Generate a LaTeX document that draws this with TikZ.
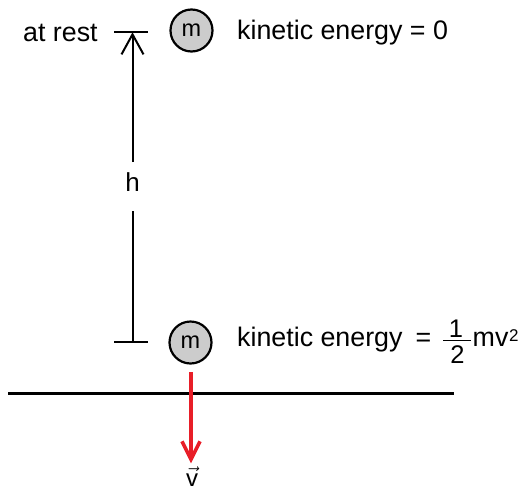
\documentclass[tikz,border=0pt]{standalone}
\usepackage{fontspec}
\setmainfont{Liberation Sans}
\usepackage{amsmath}
\usetikzlibrary{arrows.meta}
\definecolor{arrred}{RGB}{232,30,40}
\definecolor{massgray}{RGB}{204,204,204}
\begin{document}
\begin{tikzpicture}[x=1pt,y=-1pt,
  lbl/.style={font=\fontsize{26.8}{32}\selectfont, inner sep=0pt, anchor=base west},
  frac/.style={font=\fontsize{25.5}{30}\selectfont, inner sep=0pt, anchor=base},
  mass/.style={circle, draw, line width=2.2pt, fill=massgray, minimum size=42pt, inner sep=0pt, font=\fontsize{23.5}{28}\selectfont},
  tickline/.style={line width=2pt},
]
\useasboundingbox (0,0) rectangle (526,490);
% labels top
\node[lbl] (rest) at (23,41.5) {at rest};
\node[mass] (m1) at (191.5,30.5) {m};
\node[lbl] (ke1) at (237,39.3) {kinetic energy = 0};
% labels bottom
\node[mass] (m2) at (190.5,342.5) {m};
\node[lbl] (ke2) at (237,346.7) {kinetic energy};
\node[lbl] (eq) at (415.5,346.7) {=};
\node[frac] (num) at (456,337) {1};
\node[frac] (den) at (457.5,363.5) {2};
\node[lbl] (mv) at (472.5,346.7) {mv};
\node[lbl, font=\fontsize{17}{20}\selectfont] (sq) at (509,341.5) {2};
\coordinate (bl) at (443,340.5);
\coordinate (br) at (471,340.5);
\draw[line width=1.6pt] (bl) -- (br);
% height marker
\coordinate (tt1) at (114,32.3);
\coordinate (tt2) at (148,32.3);
\coordinate (tb1) at (114,341.7);
\coordinate (tb2) at (148,341.7);
\coordinate (ttop) at (132.5,32.3);
\coordinate (tbot) at (132.5,341.7);
\coordinate (gtop) at (132.5,162);
\coordinate (gbot) at (132.5,211);
\draw[tickline] (tt1) -- (tt2);
\draw[tickline] (tb1) -- (tb2);
\draw[tickline, -{Straight Barb[length=20pt,width=22pt]}] (gtop) -- (ttop);
\draw[tickline] (gbot) -- (tbot);
\node[font=\fontsize{26}{30}\selectfont, inner sep=0pt] (h) at (132.5,182) {h};
% ground
\coordinate (g1) at (8,393.3);
\coordinate (g2) at (454,393.3);
\draw[line width=3pt] (g1) -- (g2);
% velocity
\coordinate (vs) at (191,372);
\coordinate (ve) at (191,463.3);
\draw[arrred, line width=3.6pt, -{Straight Barb[length=18pt,width=18pt]}] (vs) -- (ve);
\node[font=\fontsize{24}{28}\selectfont, inner sep=0pt, anchor=base] (v) at (192,486) {$\vec{\text{v}}$};
\end{tikzpicture}
\end{document}
